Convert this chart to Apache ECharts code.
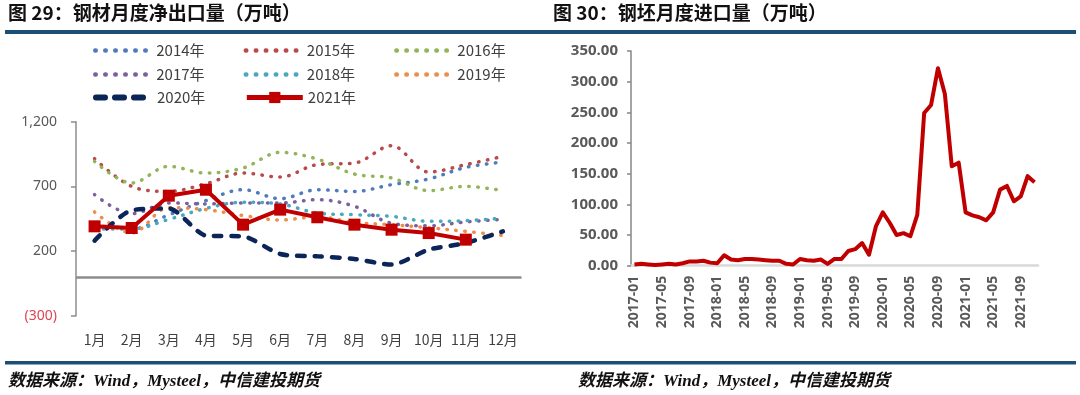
<!DOCTYPE html>
<html><head><meta charset="utf-8">
<script src="https://cdn.jsdelivr.net/npm/echarts@6/dist/echarts.min.js"></script>
<style>html,body{margin:0;padding:0;background:#fff}#c{width:1080px;height:395px}</style>
</head><body><div id="c"></div>
<script>
// ---- left chart: monthly net steel exports (10k t) ----
const months = ['1月','2月','3月','4月','5月','6月','7月','8月','9月','10月','11月','12月'];
const y2014 = [400, 370, 480, 590, 674, 605, 674, 661, 713, 757, 847, 888];
const y2015 = [914, 700, 661, 720, 803, 772, 868, 880, 1014, 811, 868, 932];
const y2016 = [893, 726, 855, 803, 842, 963, 911, 795, 765, 667, 700, 667];
const y2017 = [636, 489, 572, 564, 571, 571, 597, 546, 415, 395, 425, 445];
const y2018 = [370, 370, 445, 530, 577, 564, 494, 481, 468, 430, 435, 455];
const y2019 = [502, 340, 535, 520, 475, 440, 465, 420, 404, 380, 352, 320];
const y2020 = [280, 515, 529, 320, 313, 177, 159, 139, 95, 211, 262, 352];
const y2021 = [391, 378, 628, 674, 404, 520, 461, 404, 365, 339, 288];
const leftAxis = {min: -300, max: 1200, step: 500};

// ---- right chart: monthly billet imports (10k t) ----
const billetMonths = [
 '2017-01','2017-02','2017-03','2017-04','2017-05','2017-06','2017-07','2017-08','2017-09','2017-10','2017-11','2017-12',
 '2018-01','2018-02','2018-03','2018-04','2018-05','2018-06','2018-07','2018-08','2018-09','2018-10','2018-11','2018-12',
 '2019-01','2019-02','2019-03','2019-04','2019-05','2019-06','2019-07','2019-08','2019-09','2019-10','2019-11','2019-12',
 '2020-01','2020-02','2020-03','2020-04','2020-05','2020-06','2020-07','2020-08','2020-09','2020-10','2020-11','2020-12',
 '2021-01','2021-02','2021-03','2021-04','2021-05','2021-06','2021-07','2021-08','2021-09','2021-10','2021-11'];
const billetImports = [
 2, 3, 2, 1, 2, 3, 2, 4, 7, 7, 8, 5,
 4, 17, 10, 9, 11, 11, 10, 9, 8, 8, 3, 2,
 11, 9, 8, 10, 3, 11, 11, 24, 27, 37, 18, 64,
 87, 70, 50, 53, 48, 83, 249, 262, 322, 280, 162, 168,
 87, 82, 79, 74, 87, 124, 130, 105, 113, 146, 136];
const rightAxis = {min: 0, max: 350, step: 50};

const cjk = '"Noto Sans CJK SC", "Noto Sans", sans-serif';
const chart = echarts.init(document.getElementById('c'), null, {renderer: 'canvas'});

const colors = {
  '2014年': '#4f7bbd', '2015年': '#b84a4a', '2016年': '#93b55a', '2017年': '#7c609e',
  '2018年': '#48a8bf', '2019年': '#ee8c4a', '2020年': '#0b2559', '2021年': '#c00000'
};
const dotDash = [0.5, 8.5];
function dotted(name, data) {
  const color = colors[name];
  return {name, type: 'line', data, xAxisIndex: 0, yAxisIndex: 0, symbol: 'none', smooth: 0.35,
    itemStyle: {color}, lineStyle: {color, width: 3.5, type: dotDash, cap: 'round'}, z: 2};
}
function fmtLeft(v) {
  if (v < 0) return '(' + Math.abs(v) + ')';
  const s = String(v);
  return s.length > 3 ? s.slice(0, s.length - 3) + ',' + s.slice(-3) : s;
}
function dotItem(name) {
  return {name, itemStyle: {opacity: 0},
    lineStyle: {color: colors[name], width: 4.5, type: [0.5, 9.5], cap: 'round'}};
}
const legendText = {fontSize: 15, color: '#404040', fontFamily: cjk};
const legendBase = {left: 88, itemWidth: 56, itemHeight: 14, itemGap: 39, selectedMode: false, textStyle: legendText};

chart.setOption({
  animation: false,
  backgroundColor: '#fff',
  grid: [
    {left: 76, top: 121.7, width: 445.5, height: 194},
    {left: 631, top: 51, width: 407, height: 214.7}
  ],
  legend: [
    Object.assign({}, legendBase, {top: 38, data: [dotItem('2014年'), dotItem('2015年'), dotItem('2016年')]}),
    Object.assign({}, legendBase, {top: 62, data: [dotItem('2017年'), dotItem('2018年'), dotItem('2019年')]}),
    Object.assign({}, legendBase, {top: 85, data: [
      {name: '2020年', itemStyle: {opacity: 0}, lineStyle: {color: colors['2020年'], width: 6, type: [9, 10], cap: 'round'}},
      {name: '2021年', lineStyle: {color: colors['2021年'], width: 5}}
    ]})
  ],
  xAxis: [
    {type: 'category', gridIndex: 0, data: months, boundaryGap: true,
     axisLine: {show: false}, axisTick: {show: false},
     axisLabel: {interval: 0, fontSize: 14, color: '#404040', margin: 17, fontFamily: cjk}},
    {type: 'category', gridIndex: 1, data: billetMonths, boundaryGap: true,
     axisLine: {show: true, lineStyle: {color: '#d9d9d9', width: 2.5}}, axisTick: {show: false},
     axisLabel: {interval: 3, rotate: 90, fontSize: 14, fontWeight: 'bold', color: '#595959', margin: 10, fontFamily: '"Open Sans", sans-serif'}}
  ],
  yAxis: [
    {type: 'value', gridIndex: 0, min: leftAxis.min, max: leftAxis.max, interval: leftAxis.step,
     axisLine: {show: true, lineStyle: {color: '#8c8c8c', width: 1.5}},
     axisTick: {show: true, length: 5, lineStyle: {color: '#8c8c8c', width: 1.5}},
     splitLine: {show: false},
     axisLabel: {formatter: fmtLeft, color: v => (Number(v) < 0 ? '#e0454f' : '#595959'), fontSize: 14, margin: 19, fontFamily: '"Noto Sans", sans-serif'}},
    {type: 'value', gridIndex: 1, min: rightAxis.min, max: rightAxis.max, interval: rightAxis.step,
     axisLine: {show: true, lineStyle: {color: '#868686', width: 1.5}},
     axisTick: {show: true, length: 4, lineStyle: {color: '#868686', width: 1.5}},
     splitLine: {show: false},
     axisLabel: {formatter: v => Number(v).toFixed(2), color: '#595959', fontSize: 15, fontWeight: 'bold', margin: 13, fontFamily: '"Open Sans", sans-serif'}}
  ],
  series: [
    dotted('2014年', y2014),
    dotted('2015年', y2015),
    dotted('2016年', y2016),
    dotted('2017年', y2017),
    dotted('2018年', y2018),
    dotted('2019年', y2019),
    {name: '2020年', type: 'line', data: y2020, xAxisIndex: 0, yAxisIndex: 0, symbol: 'none', smooth: 0.25,
     itemStyle: {color: colors['2020年']}, lineStyle: {color: colors['2020年'], width: 4.5, type: [7.5, 10], cap: 'round'}, z: 3,
     markLine: {silent: true, symbol: 'none', label: {show: false},
       lineStyle: {color: '#8c8c8c', width: 2.5, type: 'solid'}, data: [{yAxis: 0}]}},
    {name: '2021年', type: 'line', data: y2021, xAxisIndex: 0, yAxisIndex: 0, symbol: 'rect', symbolSize: 12,
     itemStyle: {color: colors['2021年']}, lineStyle: {color: colors['2021年'], width: 4}, z: 4},
    {name: '钢坯进口', type: 'line', data: billetImports, xAxisIndex: 1, yAxisIndex: 1, symbol: 'none',
     itemStyle: {color: '#c00000'}, lineStyle: {color: '#c00000', width: 4, join: 'round'}, z: 3}
  ],
  graphic: [
    {type: 'text', left: 8, top: 3, style: {text: '图 29：钢材月度净出口量（万吨）', font: 'bold 19px ' + cjk, fill: '#111'}},
    {type: 'text', left: 553, top: 3, style: {text: '图 30：钢坯月度进口量（万吨）', font: 'bold 19px ' + cjk, fill: '#111'}},
    {type: 'rect', shape: {x: 5, y: 30, width: 1071, height: 4}, style: {fill: '#1c4f75'}},
    {type: 'rect', shape: {x: 5, y: 361, width: 1071, height: 3.5}, style: {fill: '#1c4f75'}},
    {type: 'text', left: 8, top: 373, style: {text: '数据来源：Wind，Mysteel，中信建投期货', font: 'italic bold 17px "Liberation Serif", ' + cjk, fill: '#111'}},
    {type: 'text', left: 578, top: 373, style: {text: '数据来源：Wind，Mysteel，中信建投期货', font: 'italic bold 17px "Liberation Serif", ' + cjk, fill: '#111'}}
  ]
});
</script></body></html>
